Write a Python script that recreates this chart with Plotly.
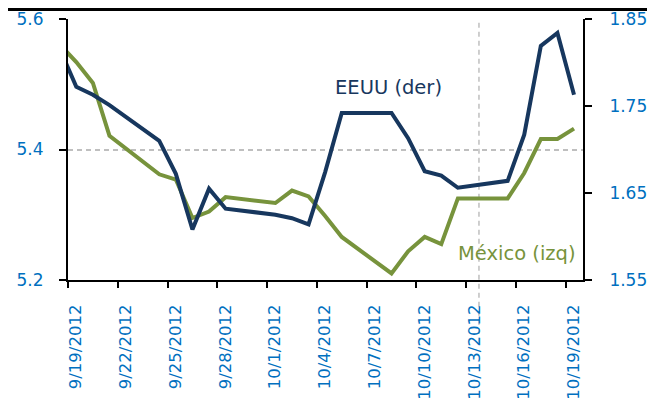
import pandas as pd
import plotly.graph_objects as go

dates = ["2012-09-18", "2012-09-19", "2012-09-20", "2012-09-21", "2012-09-24", "2012-09-25",
         "2012-09-26", "2012-09-27", "2012-09-28", "2012-10-01", "2012-10-02", "2012-10-03",
         "2012-10-04", "2012-10-05", "2012-10-08", "2012-10-09", "2012-10-10", "2012-10-11",
         "2012-10-12", "2012-10-15", "2012-10-16", "2012-10-17", "2012-10-18", "2012-10-19"]

mexico = [5.561, 5.534, 5.502, 5.421, 5.362, 5.354, 5.295, 5.305, 5.327, 5.318, 5.337, 5.328,
          5.298, 5.266, 5.210, 5.244, 5.266, 5.255, 5.325, 5.325, 5.364, 5.416, 5.416, 5.432]

eeuu = [1.816, 1.772, 1.763, 1.751, 1.710, 1.672, 1.608, 1.655, 1.632, 1.625, 1.621, 1.614,
        1.674, 1.742, 1.742, 1.713, 1.675, 1.670, 1.656, 1.664, 1.717, 1.819, 1.834, 1.763]

tick_dates = ["2012-09-19", "2012-09-22", "2012-09-25", "2012-09-28", "2012-10-01", "2012-10-04",
              "2012-10-07", "2012-10-10", "2012-10-13", "2012-10-16", "2012-10-19"]
tick_labels = ["9/19/2012", "9/22/2012", "9/25/2012", "9/28/2012", "10/1/2012", "10/4/2012",
               "10/7/2012", "10/10/2012", "10/13/2012", "10/16/2012", "10/19/2012"]

left_ticks = [5.2, 5.4, 5.6]
right_ticks = [1.55, 1.65, 1.75, 1.85]

marker_date = "2012-10-13 18:30"

NAVY = "#17375E"
GREEN = "#77933C"
BLUE = "#0070C0"
FONT = "DejaVu Sans"

x = pd.to_datetime(pd.Series(dates)) + pd.Timedelta(hours=12)

fig = go.Figure()
fig.add_trace(go.Scatter(x=x, y=mexico, mode="lines", name="México (izq)",
                         line=dict(color=GREEN, width=4), yaxis="y"))
fig.add_trace(go.Scatter(x=x, y=eeuu, mode="lines", name="EEUU (der)",
                         line=dict(color=NAVY, width=4), yaxis="y2"))

fig.update_layout(
    width=647, height=394,
    margin=dict(l=60, r=72, t=11, b=122),
    paper_bgcolor="white", plot_bgcolor="white",
    showlegend=False,
    font=dict(family=FONT, size=17, color=BLUE),
    xaxis=dict(
        type="date", automargin=False,
        range=["2012-09-19", "2012-10-20 01:00"],
        tickvals=tick_dates, ticktext=tick_labels,
        tickangle=-90, ticks="outside", ticklen=6, tickwidth=2, tickcolor="black",
        ticklabelshift=8, ticklabelstandoff=10,
        showline=True, linecolor="black", linewidth=2,
        showgrid=False, zeroline=False,
        tickfont=dict(family=FONT, size=16.5, color=BLUE),
    ),
    yaxis=dict(
        automargin=False,
        range=[5.2, 5.6], tickvals=left_ticks, tickformat=".1f",
        ticks="outside", ticklen=7, tickwidth=2, tickcolor="black",
        ticklabelstandoff=12,
        showline=True, linecolor="black", linewidth=2,
        showgrid=True, gridcolor="#BFBFBF", gridwidth=1.5, griddash="5px,4px",
        zeroline=False,
        tickfont=dict(family=FONT, size=17, color=BLUE),
    ),
    yaxis2=dict(
        automargin=False,
        range=[1.55, 1.85], tickvals=right_ticks, tickformat=".2f",
        overlaying="y", side="right",
        ticks="outside", ticklen=7, tickwidth=2, tickcolor="black",
        ticklabelstandoff=14,
        showline=True, linecolor="black", linewidth=2,
        showgrid=False, zeroline=False,
        tickfont=dict(family=FONT, size=17, color=BLUE),
    ),
    shapes=[
        dict(type="line", xref="x", yref="paper", x0=marker_date, x1=marker_date,
             y0=-0.24, y1=1, line=dict(color="#BFBFBF", width=1.5, dash="5px,4px"),
             layer="below"),
        dict(type="line", xref="paper", yref="paper", x0=-0.2, x1=1.2,
             y0=1.036, y1=1.036, line=dict(color="black", width=3)),
    ],
    annotations=[
        dict(text="EEUU (der)", xref="paper", yref="paper", x=0.515, y=0.739,
             xanchor="left", yanchor="middle", showarrow=False,
             font=dict(family=FONT, size=19.5, color=NAVY)),
        dict(text="México (izq)", xref="paper", yref="paper", x=0.754, y=0.103,
             xanchor="left", yanchor="middle", showarrow=False,
             font=dict(family=FONT, size=19.5, color=GREEN)),
    ],
)

fig.write_html("out.html")
